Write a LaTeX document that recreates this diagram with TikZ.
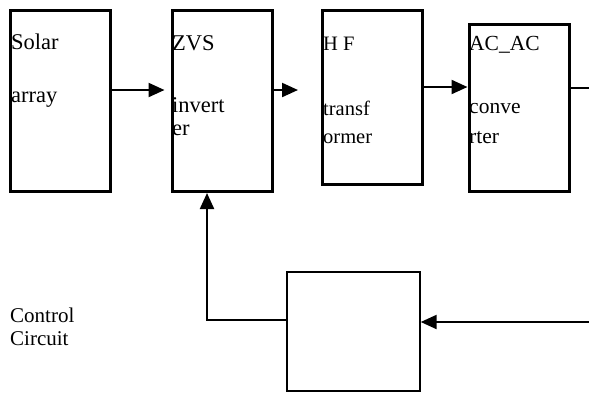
\documentclass[tikz,border=0pt]{standalone}
\usepackage{fontspec}
\setmainfont{Liberation Serif}
\usetikzlibrary{arrows.meta,positioning}

\begin{document}
\begin{tikzpicture}[x=1pt, y=-1pt,
  block/.style={draw, line width=3pt, minimum width=100pt, inner sep=0pt},
  ctrlbox/.style={draw, line width=1.4pt, minimum width=133pt, minimum height=119pt, inner sep=0pt},
  lbl/.style={anchor=base west, inner sep=0pt, font=\fontsize{22.5}{26}\selectfont},
  mid/.style={anchor=base west, inner sep=0pt, font=\fontsize{21.5}{25}\selectfont},
  small/.style={anchor=base west, inner sep=0pt, font=\fontsize{20.5}{24}\selectfont},
  note/.style={anchor=base west, inner sep=0pt, font=\fontsize{21}{25}\selectfont},
  flow/.style={-{Triangle[length=16pt,width=14pt]}, line width=2.2pt},
  wire/.style={line width=2.2pt}]
\useasboundingbox (0,0) rectangle (589,392);

% main chain
\node[block, minimum height=181pt] (solar) at (60,101) {};
\node[block, minimum height=181pt] (zvs) at (222,101) {};
\node[block, minimum height=174pt] (hf) at (372.5,97) {};
\node[block, minimum height=167pt] (acac) at (519,108) {};

% control
\node[ctrlbox] (ctrl) at (353.5,331.5) {};

% labels
\node[lbl] (solar1) at (11,49) {Solar};
\node[lbl] (solar2) at (11,102) {array};
\node[lbl] (zvs1) at (172,50) {ZVS};
\node[lbl] (zvs2) at (172,112) {invert};
\node[lbl] (zvs3) at (172,135) {er};
\node[small] (hf1) at (323,50) {H F};
\node[small] (hf2) at (323,115) {transf};
\node[small] (hf3) at (323,143) {ormer};
\node[mid] (ac1) at (469,50) {AC\_AC};
\node[mid] (ac2) at (469,113) {conve};
\node[mid] (ac3) at (469,143) {rter};
\node[note] (ctl1) at (10,322) {Control};
\node[note] (ctl2) at (10,345) {Circuit};

% free ends
\coordinate (zvsout) at (298,90);
\coordinate (acout) at (589,88);
\coordinate (fbin) at (589,322);
\coordinate (fb) at (207,320);

% connectors
\draw[flow, shorten >=6pt] (solar.east |- 0,90) -- (zvs.west |- 0,90);
\draw[flow] (zvs.east |- zvsout) -- (zvsout);
\draw[flow] (hf.east |- 0,87) -- (acac.west |- 0,87);
\draw[wire] (acac.east |- acout) -- (acout);
\draw[flow] (fbin) -- (ctrl.east |- fbin);
\draw[flow] (ctrl.west |- fb) -- (fb) -- (fb |- zvs.south);
\end{tikzpicture}
\end{document}
